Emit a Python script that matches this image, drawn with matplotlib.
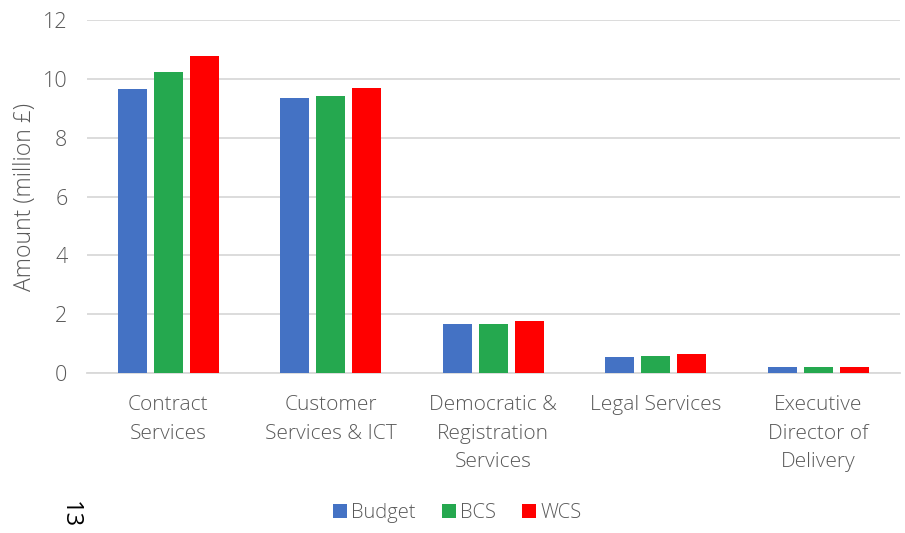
import matplotlib
matplotlib.use("Agg")
import matplotlib.pyplot as plt
import numpy as np

categories = ["Contract\nServices", "Customer\nServices & ICT", "Democratic &\nRegistration\nServices",
              "Legal Services", "Executive\nDirector of\nDelivery"]
series_names = ["Budget", "BCS", "WCS"]
budget = [9.66, 9.35, 1.67, 0.54, 0.20]
bcs = [10.24, 9.42, 1.67, 0.58, 0.20]
wcs = [10.78, 9.69, 1.77, 0.65, 0.20]
colors = ["#4472C4", "#25A84F", "#FF0000"]
yticks = [0, 2, 4, 6, 8, 10, 12]

plt.rcParams["font.family"] = ["Open Sans", "DejaVu Sans"]
text_color = "#595959"

fig = plt.figure(figsize=(9.05, 5.33), dpi=100)
ax = fig.add_axes([0.096, 0.300, 0.898, 0.6625])

x = np.arange(len(categories))
width = 0.178
step = 0.222
for i, (vals, name, c) in enumerate(zip([budget, bcs, wcs], series_names, colors)):
    ax.bar(x + (i - 1) * step, vals, width, color=c, label=name, zorder=3)

ax.set_xlim(-0.5, len(categories) - 0.5)
ax.set_ylim(0, 12)
ax.set_yticks(yticks)
ax.yaxis.grid(True, color="#D9D9D9", linewidth=1.3, zorder=0)
for s in ["top", "right", "left"]:
    ax.spines[s].set_visible(False)
ax.spines["bottom"].set_color("#D9D9D9")
ax.spines["bottom"].set_linewidth(1.3)
ax.tick_params(axis="y", length=0, labelsize=15.5, labelcolor=text_color, pad=14)
ax.tick_params(axis="x", length=0, labelsize=15, labelcolor=text_color, pad=16)
ax.set_xticks(x)
ax.set_xticklabels(categories, linespacing=1.55)
for lbl in ax.get_xticklabels() + ax.get_yticklabels():
    lbl.set_fontweight("light")
ax.set_ylabel("Amount (million £)", fontsize=16.5, color=text_color, labelpad=4,
              fontweight="light")

leg = fig.legend(loc="center", bbox_to_anchor=(0.505, 0.038), ncol=3, frameon=False,
                 fontsize=14.5, handlelength=0.7, handleheight=0.7, handletextpad=0.2,
                 columnspacing=1.3)
for t in leg.get_texts():
    t.set_color(text_color)
    t.set_fontweight("light")

fig.text(0.077, 0.035, "13", rotation=-90, fontsize=17, color="black",
         ha="center", va="center")

fig.savefig("out.png", dpi=100)
